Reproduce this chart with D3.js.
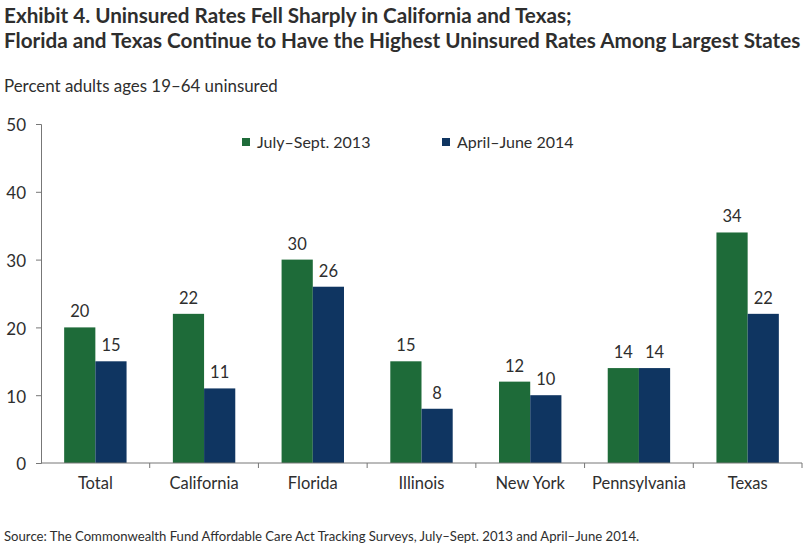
<!DOCTYPE html>
<html><head><meta charset="utf-8">
<script src="https://cdn.jsdelivr.net/npm/d3@7"></script>
<style>
body{margin:0;background:#fff;}
text{font-family:Lato,"Open Sans",sans-serif;fill:#2e2e2e;}
</style></head>
<body><svg id="c" width="806" height="548"></svg>
<script>
const categories = ["Total","California","Florida","Illinois","New York","Pennsylvania","Texas"];
const seriesNames = ["July\u2013Sept. 2013","April\u2013June 2014"];
const values2013 = [20,22,30,15,12,14,34];
const values2014 = [15,11,26,8,10,14,22];
const yTicks = [0,10,20,30,40,50];
const colors = ["#1e6b39","#0f3561"];

(function(){
const svg = d3.select("#c");
const pL = 41, pR = 802, pT = 124, pB = 463;

function fit(sel, w){
  const n = sel.node(); let fs = parseFloat(sel.attr("font-size"));
  const L = n.getComputedTextLength();
  sel.attr("font-size", fs * w / L);
}
const t1 = svg.append("text").attr("x",4).attr("y",23).attr("font-size",19).attr("font-weight","bold")
  .text("Exhibit 4. Uninsured Rates Fell Sharply in California and Texas;");
const t2 = svg.append("text").attr("x",4).attr("y",48).attr("font-size",19).attr("font-weight","bold")
  .text("Florida and Texas Continue to Have the Highest Uninsured Rates Among Largest States");
fit(t2, 797);
t1.attr("font-size", t2.attr("font-size"));
const st = svg.append("text").attr("x",4).attr("y",92).attr("font-size",16)
  .text("Percent adults ages 19\u201364 uninsured");
fit(st, 274);

const x0 = d3.scaleBand().domain(categories).range([pL,pR]).padding(0);
const bw = x0.bandwidth()*0.287;
const x1 = d3.scaleBand().domain([0,1]).range([-bw, bw]);
const y = d3.scaleLinear().domain([0,50]).range([pB, pT]);

const ya = svg.append("g").attr("transform",`translate(${pL},0)`)
  .call(d3.axisLeft(y).tickValues(yTicks).tickSize(5).tickPadding(8));
ya.select(".domain").attr("stroke","#777");
ya.selectAll(".tick line").attr("stroke","#777");
ya.selectAll(".tick text").attr("font-size",17).attr("font-family","Lato,sans-serif").attr("fill","#2e2e2e").attr("x",-15).attr("dy","0.4em");

const data = categories.map((c,i)=>({c, v:[values2013[i], values2014[i]]}));
const g = svg.append("g");
data.forEach(d=>{
  const cx = x0(d.c)+x0.bandwidth()/2;
  d.v.forEach((v,j)=>{
    g.append("rect").attr("x",cx+x1(j)).attr("y",y(v)).attr("width",x1.bandwidth()).attr("height",y(0)-y(v))
      .attr("fill",colors[j]);
    g.append("text").attr("x",cx+x1(j)+x1.bandwidth()/2).attr("y",y(v)-10).attr("text-anchor","middle")
      .attr("font-size",16.5).text(v);
  });
});

const xa = svg.append("g").attr("transform",`translate(0,${pB})`);
xa.append("line").attr("x1",pL).attr("x2",pR).attr("stroke","#777");
const bounds = categories.map(c=>x0(c)+x0.bandwidth());
xa.selectAll("line.t").data(bounds).enter().append("line").attr("class","t")
  .attr("x1",d=>d).attr("x2",d=>d).attr("y1",0).attr("y2",5).attr("stroke","#777");
xa.selectAll("text").data(categories).enter().append("text")
  .attr("x",d=>x0(d)+x0.bandwidth()/2).attr("y",26).attr("text-anchor","middle").attr("font-size",16.5).text(d=>d);

const legX = [242,442];
seriesNames.forEach((s,i)=>{
  svg.append("rect").attr("x",legX[i]).attr("y",138).attr("width",8).attr("height",8).attr("fill",colors[i]);
  svg.append("text").attr("x",legX[i]+15).attr("y",148).attr("font-size",16).text(s);
});

const src = svg.append("text").attr("x",4).attr("y",541).attr("font-size",12)
  .text("Source: The Commonwealth Fund Affordable Care Act Tracking Surveys, July\u2013Sept. 2013 and April\u2013June 2014.");
fit(src, 636);
})();
</script></body></html>
